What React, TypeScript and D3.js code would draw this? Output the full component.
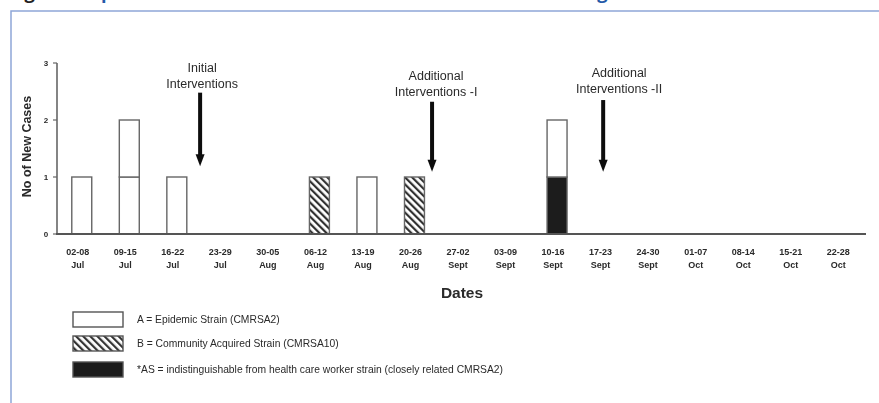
import React from "react";
import * as d3 from "d3";

const weeks = ["02-08","09-15","16-22","23-29","30-05","06-12","13-19","20-26","27-02","03-09","10-16","17-23","24-30","01-07","08-14","15-21","22-28"];
const months = ["Jul","Jul","Jul","Jul","Aug","Aug","Aug","Aug","Sept","Sept","Sept","Sept","Sept","Oct","Oct","Oct","Oct"];
// cases per week by strain
const hcwStrain = [0,0,0,0,0,0,0,0,0,0,1,0,0,0,0,0,0];
const epidemicA = [1,2,1,0,0,0,1,0,0,0,1,0,0,0,0,0,0];
const communityB = [0,0,0,0,0,1,0,1,0,0,0,0,0,0,0,0,0];
const yTicks = [0,1,2,3];
// interventions: position in week index units, arrow top / tip in case units
const interventionLines = [["Initial","Interventions"],["Additional","Interventions -I"],["Additional","Interventions -II"]];
const interventionPos = [2.49, 7.37, 10.97];
const interventionTop = [2.48, 2.32, 2.35];
const interventionTip = [1.19, 1.09, 1.09];
const legendLabels = [
  "A = Epidemic Strain (CMRSA2)",
  "B = Community Acquired Strain (CMRSA10)",
  "*AS = indistinguishable from health care worker strain (closely related CMRSA2)",
];
const titleBlack = "Figure 1:";
const titleBlue = "Epidemic curve of new MRSA cases in the unit and timing of interventions";

export default function App() {
  const W = 879, H = 403;
  const x = d3.scaleBand<string>().domain(weeks).range([58, 866]).paddingInner(0.58).paddingOuter(0.29);
  const y = d3.scaleLinear().domain([0, 3]).range([234, 63]);
  const step = x.step();
  const bw = x.bandwidth();
  const idxX = (p: number) => (x(weeks[0]) as number) + bw / 2 + p * step;

  const cases: { w: string; k: string; i: number }[] = [];
  weeks.forEach((w, wi) => {
    const list: string[] = [];
    for (let j = 0; j < hcwStrain[wi]; j++) list.push("hcw");
    for (let j = 0; j < epidemicA[wi]; j++) list.push("A");
    for (let j = 0; j < communityB[wi]; j++) list.push("B");
    list.forEach((k, i) => cases.push({ w, k, i }));
  });
  const fillFor = (k: string) => (k === "A" ? "#fff" : k === "B" ? "url(#hatch)" : "#1a1a1a");
  const font = "Arial, 'Liberation Sans', sans-serif";
  const ink = "#2a2a2a";

  return (
    <svg width={W} height={H} style={{ position: "absolute", left: 0, top: 0, background: "#fff" }} fontFamily={font}>
      <defs>
        <pattern id="hatch" patternUnits="userSpaceOnUse" width="5" height="5" patternTransform="rotate(-45)">
          <rect width="5" height="5" fill="#fff" />
          <rect width="2.2" height="5" fill="#333" />
        </pattern>
        <filter id="soft" x="-5%" y="-5%" width="110%" height="110%">
          <feGaussianBlur stdDeviation="0.55" />
        </filter>
      </defs>
      <text x={9} y={-1} fontSize={18.2} fontFamily="'Open Sans', sans-serif" fontWeight={700}>
        <tspan fill="#222">{titleBlack} </tspan>
        <tspan fill="#2559a8">{titleBlue}</tspan>
      </text>
      <path d={`M11,${H} L11,11 L${W},11`} fill="none" stroke="#8ea6d8" strokeWidth={1.5} />

      <g filter="url(#soft)">
        {/* y axis */}
        <line x1={57} x2={57} y1={y(3)} y2={y(0)} stroke="#666" strokeWidth={1.6} />
        {yTicks.map((t) => (
          <g key={t}>
            <line x1={53} x2={57} y1={y(t)} y2={y(t)} stroke="#666" strokeWidth={1.2} />
            <text x={46} y={y(t) + 3} fontSize={8} fontWeight={700} textAnchor="middle" fill={ink}>{t}</text>
          </g>
        ))}
        <text transform={`translate(31,${(y(0) + y(3)) / 2 - 2}) rotate(-90)`} fontSize={12.5} fontWeight={700} textAnchor="middle" fill={ink}>No of New Cases</text>

        {/* bars */}
        {cases.map((c, n) => (
          <rect key={n} x={x(c.w)} width={bw} y={y(c.i + 1)} height={y(c.i) - y(c.i + 1)}
            fill={fillFor(c.k)} stroke="#666" strokeWidth={1.4} />
        ))}

        {/* x axis */}
        <line x1={56} x2={866} y1={y(0)} y2={y(0)} stroke="#555" strokeWidth={2} />
        {weeks.map((w, i) => (
          <g key={w + i}>
            <text x={(x(w) as number) + bw / 2 - 4} y={255} fontSize={9} fontWeight={700} textAnchor="middle" fill={ink}>{w}</text>
            <text x={(x(w) as number) + bw / 2 - 4} y={268} fontSize={9} fontWeight={700} textAnchor="middle" fill={ink}>{months[i]}</text>
          </g>
        ))}
        <text x={462} y={298} fontSize={15.5} fontWeight={700} textAnchor="middle" fill={ink}>Dates</text>

        {/* intervention arrows */}
        {interventionLines.map((lines, i) => {
          const ax = idxX(interventionPos[i]);
          const top = y(interventionTop[i]);
          const tip = y(interventionTip[i]);
          const dx = [2, 4, 16][i];
          const ty = [72, 80, 77][i];
          return (
            <g key={i}>
              <text x={ax + dx} y={ty} fontSize={12.5} textAnchor="middle" fill={ink}>{lines[0]}</text>
              <text x={ax + dx} y={ty + 16} fontSize={12.5} textAnchor="middle" fill={ink}>{lines[1]}</text>
              <line x1={ax} x2={ax} y1={top} y2={tip - 10} stroke="#111" strokeWidth={4} />
              <path d={`M${ax - 4.5},${tip - 12} L${ax + 4.5},${tip - 12} L${ax},${tip} Z`} fill="#111" />
            </g>
          );
        })}

        {/* legend */}
        {legendLabels.map((lab, i) => {
          const ly = [312, 336, 362][i];
          return (
            <g key={i}>
              <rect x={73} y={ly} width={50} height={15} fill={fillFor(["A", "B", "hcw"][i])} stroke="#555" strokeWidth={1.4} />
              <text x={137} y={ly + 11} fontSize={10.3} fill={ink}>{lab}</text>
            </g>
          );
        })}
      </g>
    </svg>
  );
}
